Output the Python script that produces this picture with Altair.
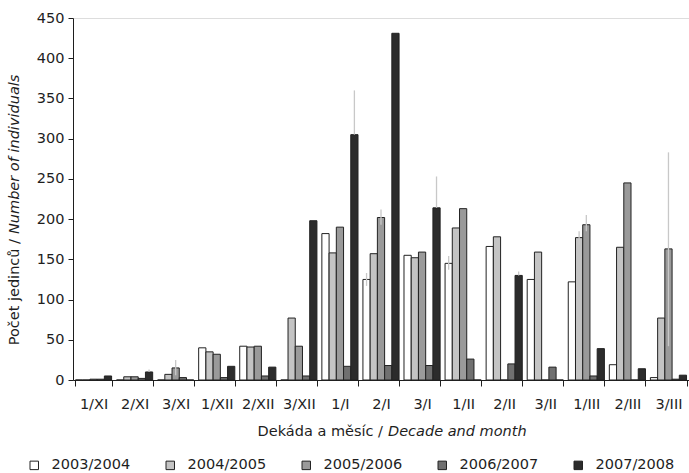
import altair as alt
import pandas as pd

categories = ["1/XI", "2/XI", "3/XI", "1/XII", "2/XII", "3/XII", "1/I", "2/I", "3/I",
              "1/II", "2/II", "3/II", "1/III", "2/III", "3/III"]
seasons = ["2003/2004", "2004/2005", "2005/2006", "2006/2007", "2007/2008"]

s2003 = [0, 0, 0, 40, 42, 0, 182, 125, 155, 145, 166, 125, 122, 19, 3]
s2004 = [0, 4, 7, 35, 41, 77, 158, 157, 152, 189, 178, 159, 177, 165, 77]
s2005 = [1, 4, 15, 32, 42, 42, 190, 202, 159, 213, 0, 0, 193, 245, 163]
s2006 = [1, 2, 3, 3, 5, 5, 17, 18, 18, 26, 20, 16, 5, 0, 1]
s2007 = [5, 10, 0, 17, 16, 198, 305, 431, 214, 0, 130, 0, 39, 14, 6]

err_cat = ["2/XI", "3/XI", "1/I", "2/I", "2/I", "3/I", "1/II", "2/II", "1/III", "1/III", "3/III"]
err_season = ["2007/2008", "2005/2006", "2007/2008", "2003/2004", "2005/2006", "2007/2008",
              "2003/2004", "2007/2008", "2004/2005", "2005/2006", "2005/2006"]
err_low = [10, 6, 305, 117, 193, 214, 137, 130, 168, 185, 42]
err_high = [13, 25, 360, 133, 212, 253, 154, 135, 185, 205, 283]

colors = ["#ffffff", "#c4c4c4", "#9a9a9a", "#707070", "#2c2c2c"]

FONT = "DejaVu Sans"
FS = 14.5
INK = "#1e1e1e"

series = [s2003, s2004, s2005, s2006, s2007]
rows = []
for i, c in enumerate(categories):
    for s, vals in zip(seasons, series):
        rows.append({"cat": c, "season": s, "value": vals[i]})
df = pd.DataFrame(rows)
err_df = pd.DataFrame({"cat": err_cat, "season": err_season, "low": err_low, "high": err_high})

W, H = 616, 362

x_enc = alt.X(
    "cat:N", sort=categories,
    scale=alt.Scale(domain=categories, paddingInner=0.12, paddingOuter=0.06),
    axis=alt.Axis(title=None, tickBand="extent", labelAngle=0, labelFont=FONT,
                  labelFontSize=FS, labelColor=INK, labelPadding=11, tickSize=6,
                  domainColor=INK, tickColor=INK, grid=False),
)
xoff = alt.XOffset("season:N", sort=seasons,
                   scale=alt.Scale(domain=seasons, paddingInner=0, paddingOuter=0))
y_scale = alt.Scale(domain=[0, 450], nice=False)

bars = alt.Chart(df).mark_bar(stroke="#222222", strokeWidth=1).encode(
    x=x_enc,
    xOffset=xoff,
    y=alt.Y("value:Q", scale=y_scale,
            axis=alt.Axis(title=None, values=list(range(0, 451, 50)), grid=False,
                          labelFont=FONT, labelFontSize=FS, labelColor=INK,
                          labelPadding=4, tickSize=5, domainColor=INK, tickColor=INK)),
    color=alt.Color("season:N", sort=seasons,
                    scale=alt.Scale(domain=seasons, range=colors),
                    legend=alt.Legend(title=None, orient="none", legendX=-46, legendY=440,
                                      direction="horizontal", columns=5,
                                      symbolType="square", symbolSize=72,
                                      symbolStrokeColor="#222222", symbolStrokeWidth=1,
                                      labelFont=FONT, labelFontSize=FS, labelColor=INK,
                                      labelOffset=10, columnPadding=32, padding=0)),
)

errs = alt.Chart(err_df).mark_rule(color="#c8c8c8", strokeWidth=1.3).encode(
    x=alt.X("cat:N", sort=categories),
    xOffset=alt.XOffset("season:N", sort=seasons),
    y=alt.Y("low:Q", scale=y_scale),
    y2="high:Q",
)

one = pd.DataFrame({"a": [0]})
xt1 = alt.Chart(one).mark_text(text="Dekáda a měsíc /", align="right", baseline="middle",
                               font=FONT, fontSize=FS, color=INK).encode(
    x=alt.value(310), y=alt.value(414))
xt2 = alt.Chart(one).mark_text(text="Decade and month", align="left", baseline="middle",
                               font=FONT, fontSize=FS, fontStyle="italic", color=INK).encode(
    x=alt.value(315), y=alt.value(414))
yt1 = alt.Chart(one).mark_text(text="Počet jedinců /", align="right", baseline="middle",
                               angle=270, font=FONT, fontSize=FS, color=INK).encode(
    x=alt.value(-58), y=alt.value(221))
yt2 = alt.Chart(one).mark_text(text="Number of individuals", align="left", baseline="middle",
                               angle=270, font=FONT, fontSize=FS, fontStyle="italic",
                               color=INK).encode(
    x=alt.value(-58), y=alt.value(216))

chart = alt.layer(bars, errs, xt1, xt2, yt1, yt2).properties(
    width=W, height=H,
    autosize=alt.AutoSizeParams(type="none"),
    padding={"left": 73, "top": 18, "right": 0, "bottom": 93},
).configure_view(stroke=None).configure(background="white")

chart.save("out.html", embed_options={"renderer": "svg", "actions": False})
